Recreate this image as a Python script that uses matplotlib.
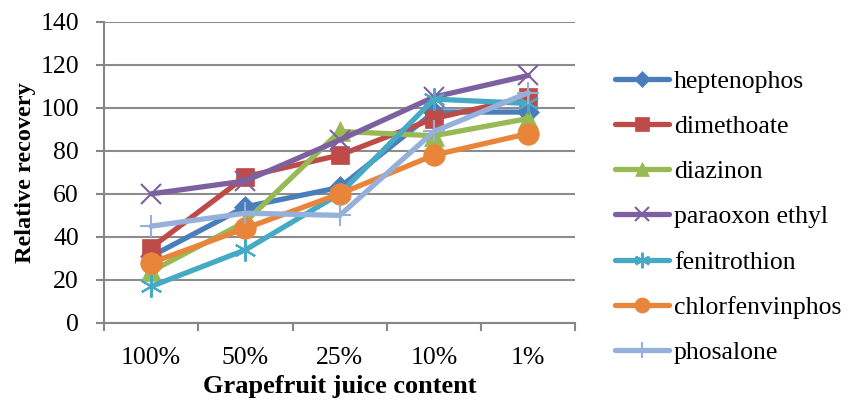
import matplotlib.pyplot as plt

categories = ["100%", "50%", "25%", "10%", "1%"]
compounds = ["heptenophos", "dimethoate", "diazinon", "paraoxon ethyl",
             "fenitrothion", "chlorfenvinphos", "phosalone"]
heptenophos = [31, 54, 63, 98, 98]
dimethoate = [35, 68, 78, 95, 105]
diazinon = [24, 47, 89, 87, 95]
paraoxon_ethyl = [60, 66, 85, 105, 115]
fenitrothion = [17, 34, 60, 104, 102]
chlorfenvinphos = [28, 44, 60, 78, 88]
phosalone = [45, 51, 50, 89, 107]

series = [heptenophos, dimethoate, diazinon, paraoxon_ethyl,
          fenitrothion, chlorfenvinphos, phosalone]
colors = ["#4A7EBB", "#BE4B48", "#98B954", "#7D60A0",
          "#46AAC5", "#E8853A", "#95B0DA"]
markers = ["D", "s", "^", "x", (6, 2, 0), "o", "+"]
msizes = [11, 13.5, 14, 15, 16, 15.5, 16]

plt.rcParams["font.family"] = ["Liberation Serif", "DejaVu Serif"]

fig = plt.figure(figsize=(8.5, 4.07), dpi=100)
ax = fig.add_axes([0.1224, 0.2064, 0.5546, 0.7404])

x = list(range(len(categories)))
for name, vals, c, m, ms in zip(compounds, series, colors, markers, msizes):
    ax.plot(x, vals, color=c, lw=3.8, marker=m, markersize=ms,
            markeredgewidth=1.5 if m in ("x", "+", (6, 2, 0)) else 0.5,
            markeredgecolor=c, label=name, solid_capstyle="round")

ax.set_xlim(-0.5, len(categories) - 0.5)
ax.set_ylim(0, 140)
ax.set_yticks(range(0, 141, 20))
ax.set_xticks(x)
ax.set_xticklabels(categories)
ax.set_xticks([i - 0.5 for i in range(len(categories) + 1)], minor=True)
ax.tick_params(axis="x", which="major", length=0, labelsize=18.5, pad=17.5)
ax.tick_params(axis="x", which="minor", length=6, width=1.5, color="#868686")
ax.tick_params(axis="y", length=6, width=1.5, color="#868686",
               labelsize=18.5, pad=12)
ax.grid(axis="y", color="#8C8C8C", lw=1.5)
ax.set_axisbelow(True)
for side in ("top", "right"):
    ax.spines[side].set_visible(False)
for side in ("left", "bottom"):
    ax.spines[side].set_color("#868686")
    ax.spines[side].set_linewidth(1.5)

ax.set_xlabel("Grapefruit juice content", fontsize=19, fontweight="bold", labelpad=4)
ax.set_ylabel("Relative recovery", fontsize=17.5, fontweight="bold", labelpad=3)

ax.legend(loc="center left", bbox_to_anchor=(0.7235, 0.467),
          bbox_transform=fig.transFigure, frameon=False, borderpad=0,
          borderaxespad=0, fontsize=18.5, handlelength=2.1,
          labelspacing=0.86, handletextpad=0.2, markerscale=0.7)

fig.savefig("out.png", dpi=100)
